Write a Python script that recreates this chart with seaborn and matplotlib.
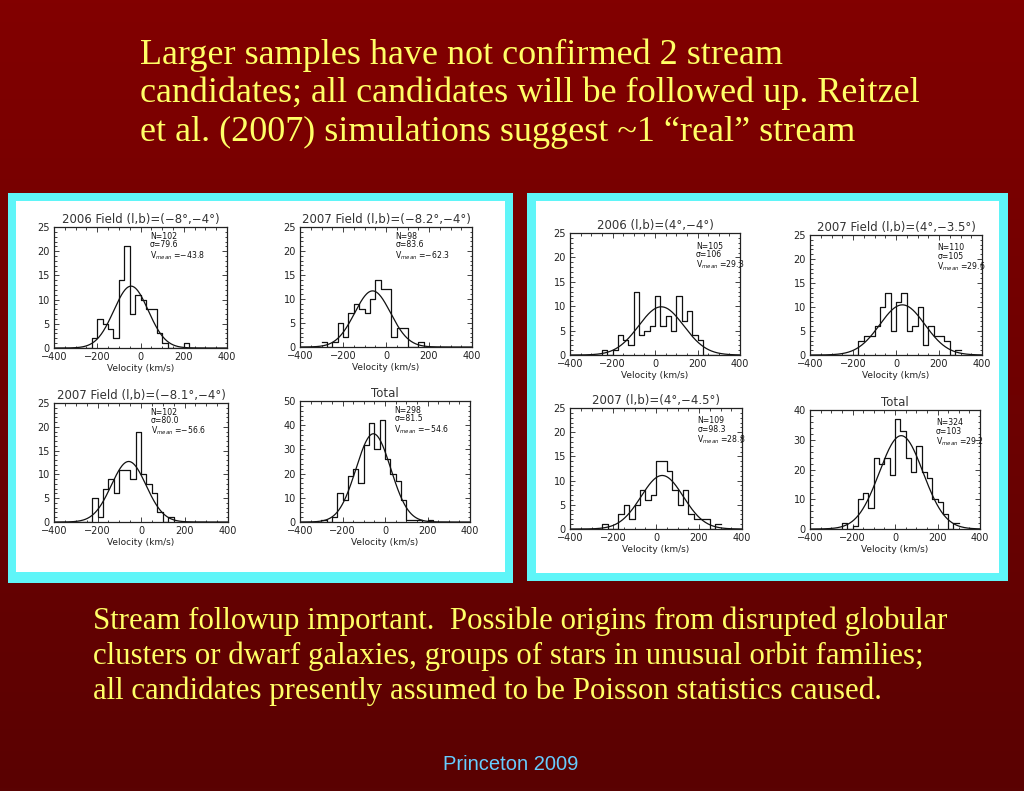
import numpy as np
import pandas as pd
import matplotlib
matplotlib.use("Agg")
import matplotlib.pyplot as plt
import seaborn as sns
from matplotlib.patches import Rectangle
from matplotlib.ticker import MultipleLocator

W, H = 1024, 791

# --- slide text ---
title_lines = [
    "Larger samples have not confirmed 2 stream",
    "candidates; all candidates will be followed up. Reitzel",
    "et al. (2007) simulations suggest ~1 \u201creal\u201d stream",
]
note_lines = [
    "Stream followup important.  Possible origins from disrupted globular",
    "clusters or dwarf galaxies, groups of stars in unusual orbit families;",
    "all candidates presently assumed to be Poisson statistics caused.",
]
footer = "Princeton 2009"

# --- histogram data: counts in 25 km/s bins from -300 to +300 km/s ---
bin_lo, bin_hi, bin_w = -300, 300, 25
bin_centers = np.arange(bin_lo, bin_hi, bin_w) + bin_w / 2

panel_titles = [
    "2006 Field (l,b)=(\u22128\u00b0,\u22124\u00b0)",
    "2007 Field (l,b)=(\u22128.2\u00b0,\u22124\u00b0)",
    "2007 Field (l,b)=(\u22128.1\u00b0,\u22124\u00b0)",
    "Total",
    "2006 (l,b)=(4\u00b0,\u22124\u00b0)",
    "2007 Field (l,b)=(4\u00b0,\u22123.5\u00b0)",
    "2007 (l,b)=(4\u00b0,\u22124.5\u00b0)",
    "Total",
]
counts = [
    [0, 0, 0, 2, 6, 5, 4, 2, 14, 21, 7, 11, 10, 8, 8, 3, 1, 0, 0, 0, 1, 0, 0, 0],
    [1, 0, 1, 5, 2, 7, 9, 8, 7, 10, 14, 12, 12, 2, 4, 4, 0, 0, 1, 0, 0, 0, 0, 0],
    [0, 0, 0, 5, 1, 7, 9, 6, 11, 11, 9, 19, 10, 8, 6, 2, 0, 1, 0, 0, 0, 0, 0, 0],
    [1, 0, 2, 12, 9, 19, 22, 16, 32, 41, 30, 42, 26, 20, 17, 9, 1, 1, 1, 0, 1, 0, 0, 0],
    [0, 0, 1, 0, 1, 4, 3, 2, 13, 4, 5, 6, 12, 6, 8, 5, 12, 7, 9, 4, 3, 0, 0, 0],
    [0, 0, 0, 0, 0, 3, 4, 4, 6, 10, 13, 5, 11, 13, 5, 6, 10, 2, 6, 4, 4, 3, 0, 1],
    [0, 0, 1, 0, 0, 3, 5, 2, 5, 8, 6, 7, 14, 14, 12, 8, 5, 8, 3, 2, 2, 2, 0, 1],
    [0, 0, 2, 0, 1, 10, 12, 7, 24, 22, 24, 18, 37, 33, 24, 19, 28, 19, 17, 10, 9, 5, 0, 2],
]
# gaussian fit parameters printed in each panel
fit_n = [102, 98, 102, 298, 105, 110, 109, 324]
fit_sigma = ["79.6", "83.6", "80.0", "81.5", "106", "105", "98.3", "103"]
fit_vmean = ["-43.8", "-62.3", "-56.6", "-54.6", "29.3", "29.6", "28.8", "29.2"]
y_max = [25, 25, 25, 50, 25, 25, 25, 40]

# axes boxes in slide pixels: left, top, right, bottom
boxes = [
    (54, 227, 227, 348), (300, 227, 472, 347),
    (54, 403, 228, 522), (300, 401, 470, 522),
    (570, 233, 740, 355), (810, 235, 982, 355),
    (570, 408, 742, 529), (810, 410, 980, 529),
]


def fig_rect(l, t, r, b):
    return [l / W, 1 - b / H, (r - l) / W, (b - t) / H]


fig = plt.figure(figsize=(W / 100, H / 100), dpi=100)

# background: dark red gradient with two framed white cards
bg = fig.add_axes([0, 0, 1, 1])
grad = np.linspace(0, 1, 256)[:, None]
cmap = matplotlib.colors.LinearSegmentedColormap.from_list(
    "slide", ["#820000", "#5a0202"])
bg.imshow(grad, aspect="auto", cmap=cmap, extent=[0, W, H, 0])
for (l, t, r, b) in [(8, 193, 513, 583), (527, 193, 1008, 581)]:
    bg.add_patch(Rectangle((l, t), r - l, b - t, color="#5ff5f8", lw=0))
for (l, t, r, b) in [(16, 201, 505, 572), (536, 201, 999, 573)]:
    bg.add_patch(Rectangle((l, t), r - l, b - t, color="white", lw=0))
bg.set_xlim(0, W)
bg.set_ylim(H, 0)
bg.axis("off")

serif = ["Liberation Serif", "DejaVu Serif"]
for i, line in enumerate(title_lines):
    fig.text(140 / W, 1 - (64 + 38.5 * i) / H, line, family=serif,
             fontsize=26, color="#ffff66", va="baseline")
for i, line in enumerate(note_lines):
    fig.text(93 / W, 1 - (629 + 35 * i) / H, line, family=serif,
             fontsize=22.2, color="#ffff66", va="baseline")
fig.text(511 / W, 1 - 770 / H, footer, family="Liberation Sans",
         fontsize=14.5, color="#66ccff", ha="center", va="baseline")

v = np.linspace(-400, 400, 400)
for k in range(8):
    ax = fig.add_axes(fig_rect(*boxes[k]))
    df = pd.DataFrame({"velocity": bin_centers, "n": counts[k]})
    sns.histplot(data=df, x="velocity", weights="n", binwidth=bin_w,
                 binrange=(bin_lo, bin_hi), element="step", fill=False,
                 color="#111111", linewidth=0.9, ax=ax)
    sig = float(fit_sigma[k])
    mu = float(fit_vmean[k])
    amp = fit_n[k] * bin_w / (np.sqrt(2 * np.pi) * sig)
    sns.lineplot(x=v, y=amp * np.exp(-0.5 * ((v - mu) / sig) ** 2),
                 color="#111111", linewidth=0.9, ax=ax)
    ax.set_xlim(-400, 400)
    ax.set_ylim(0, y_max[k])
    ax.xaxis.set_major_locator(MultipleLocator(200))
    ax.xaxis.set_minor_locator(MultipleLocator(50))
    step = 10 if y_max[k] > 25 else 5
    ax.yaxis.set_major_locator(MultipleLocator(step))
    ax.yaxis.set_minor_locator(MultipleLocator(step / 5))
    ax.tick_params(which="both", direction="in", top=True, right=True,
                   width=0.6, labelsize=7, colors="#222222", pad=3)
    ax.tick_params(which="major", length=3.5)
    ax.tick_params(which="minor", length=1.8)
    for s in ax.spines.values():
        s.set_linewidth(0.9)
        s.set_color("#222222")
    ax.set_ylabel("")
    ax.set_xlabel("Velocity (km/s)", fontsize=6.5, color="#222222", labelpad=1)
    ax.set_title(panel_titles[k], fontsize=8.5, color="#333333", pad=3)
    tx, ty = (0.555, 0.96) if k < 4 else (0.74, 0.93)
    vm = fit_vmean[k].replace("-", "\u2212")
    ax.text(tx, ty, f"N={fit_n[k]}\n\u03c3={fit_sigma[k]}\n"
            f"V$_{{mean}}$ ={vm}", transform=ax.transAxes, fontsize=5.6,
            va="top", linespacing=0.95, color="#111111")

fig.savefig("out.png", dpi=100)
